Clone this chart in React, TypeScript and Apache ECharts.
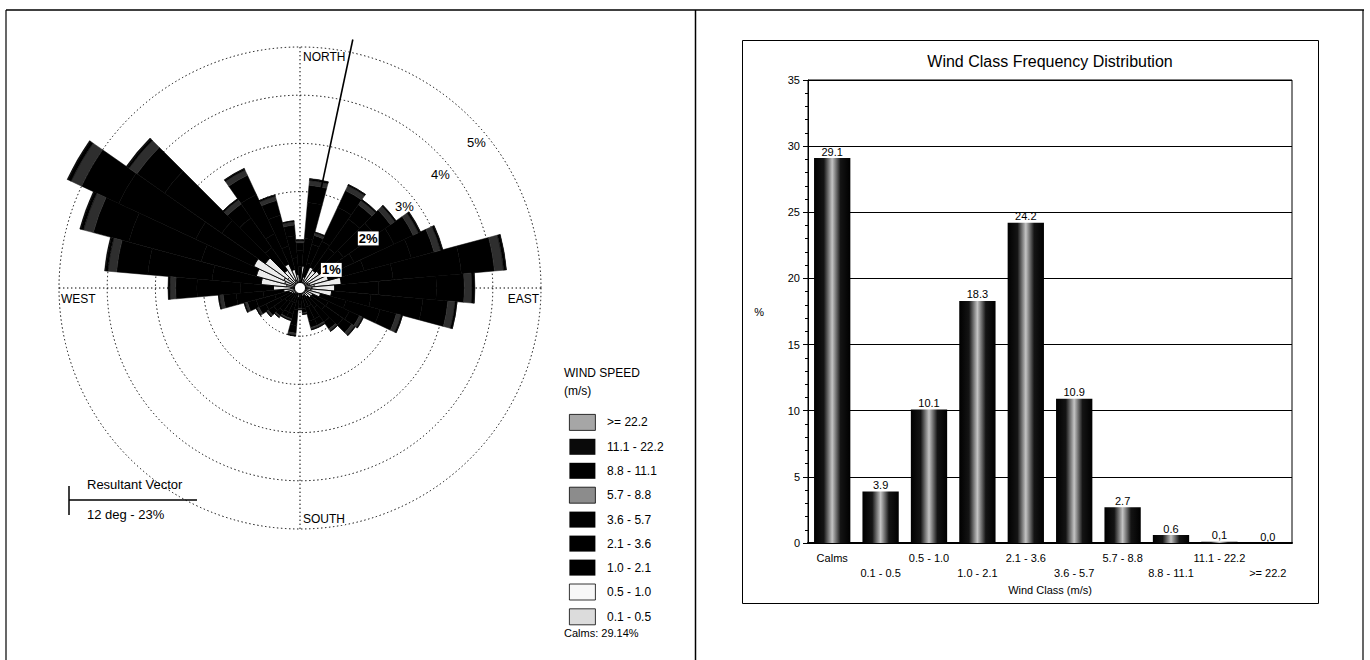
import React, { useEffect, useRef } from 'react';
import * as echarts from 'echarts';

// ---------- Wind rose data (percent of all hours, per 10-degree sector) ----------
const directions = ['0','10','20','30','40','50','60','70','80','90','100','110','120','130','140','150','160','170','180','190','200','210','220','230','240','250','260','270','280','290','300','310','320','330','340','350'];
const speedClasses = ['0.1 - 0.5','0.5 - 1.0','1.0 - 2.1','2.1 - 3.6','3.6 - 5.7','5.7 - 8.8','8.8 - 11.1','11.1 - 22.2','>= 22.2'];
const ws01_05 = [0.07,0.16,0.08,0.17,0.16,0.17,0.19,0.21,0.30,0.25,0.23,0.15,0.10,0.10,0.08,0.06,0.06,0.04,0.03,0.07,0.05,0.05,0.05,0.06,0.07,0.08,0.12,0.19,0.28,0.33,0.37,0.31,0.16,0.19,0.14,0.10];
const ws05_10 = [0.13,0.30,0.16,0.31,0.29,0.32,0.36,0.40,0.56,0.47,0.43,0.29,0.19,0.18,0.14,0.12,0.12,0.07,0.06,0.13,0.09,0.09,0.10,0.11,0.13,0.16,0.22,0.36,0.53,0.61,0.69,0.57,0.29,0.36,0.26,0.18];
const ws10_21 = [0.25,0.57,0.30,0.59,0.56,0.61,0.69,0.77,1.08,0.91,0.82,0.55,0.36,0.35,0.28,0.23,0.23,0.14,0.11,0.25,0.18,0.18,0.19,0.21,0.25,0.30,0.43,0.69,1.02,1.18,1.33,1.10,0.57,0.69,0.50,0.35];
const ws21_36 = [0.33,0.75,0.40,0.78,0.74,0.80,0.91,1.01,1.42,1.20,1.08,0.73,0.48,0.46,0.36,0.30,0.30,0.18,0.15,0.33,0.23,0.23,0.25,0.28,0.33,0.40,0.56,0.90,1.34,1.56,1.76,1.45,0.75,0.90,0.66,0.46];
const ws36_57 = [0.16,0.36,0.19,0.38,0.36,0.39,0.44,0.49,0.69,0.58,0.52,0.35,0.23,0.22,0.18,0.14,0.14,0.09,0.07,0.16,0.11,0.11,0.12,0.14,0.16,0.19,0.27,0.44,0.65,0.76,0.85,0.70,0.36,0.44,0.32,0.22];
const ws57_88 = [0.05,0.10,0.05,0.11,0.10,0.11,0.12,0.14,0.19,0.16,0.15,0.10,0.07,0.07,0.05,0.04,0.04,0.03,0.03,0.05,0.03,0.03,0.03,0.04,0.05,0.05,0.08,0.12,0.18,0.21,0.24,0.20,0.10,0.12,0.09,0.07];
const ws88_111 = [0.01,0.03,0.02,0.03,0.03,0.03,0.04,0.04,0.05,0.05,0.04,0.03,0.02,0.02,0.01,0.01,0.01,0,0,0.01,0.01,0.01,0.01,0.01,0.01,0.02,0.02,0.03,0.05,0.06,0.07,0.05,0.03,0.03,0.03,0.02];
const ws111_222 = [0,0.01,0,0,0,0,0.01,0.01,0.01,0.01,0,0,0,0,0,0,0,0,0,0,0,0,0,0,0,0,0,0.01,0.02,0.02,0.02,0.02,0,0.01,0,0];
const ws222 = [0,0,0,0,0,0,0,0,0,0,0,0,0,0,0,0,0,0,0,0,0,0,0,0,0,0,0,0,0,0,0,0,0,0,0,0];
const roseSeriesData = [ws01_05, ws05_10, ws10_21, ws21_36, ws36_57, ws57_88, ws88_111, ws111_222, ws222];
const calmsPct = 29.14;
const ringPcts = [1, 2, 3, 4, 5];
const compassLabels = ['NORTH', 'EAST', 'SOUTH', 'WEST'];
const resultantDeg = 12;
const resultantLen = 5.27;
const resultantText = '12 deg - 23%';

// ---------- Frequency distribution data ----------
const windClasses = ['Calms','0.1 - 0.5','0.5 - 1.0','1.0 - 2.1','2.1 - 3.6','3.6 - 5.7','5.7 - 8.8','8.8 - 11.1','11.1 - 22.2','>= 22.2'];
const classFreq = [29.1, 3.9, 10.1, 18.3, 24.2, 10.9, 2.7, 0.6, 0.1, 0.0];
const classFreqLabels = ['29.1','3.9','10.1','18.3','24.2','10.9','2.7','0.6','0,1','0,0'];
const yMax = 35;
const yStep = 5;

// ---------- styling ----------
const FONT = 'Liberation Sans, Arial, sans-serif';
// colours used inside the rose petals
const petalColors = ['#d4d4d4', '#ececec', '#000', '#000', '#000', '#2e2e2e', '#000', '#000', '#8a8a8a'];
const petalBorderW = [0.9, 0.9, 0.5, 0.5, 0.5, 0.5, 0.5, 0.5, 0];
// colours of the legend swatches (speckled patterns approximated by greys)
const swatchColors = ['#dcdcdc', '#f7f7f7', '#000', '#000', '#000', '#8c8c8c', '#000', '#0a0a0a', '#a6a6a6'];
const swatchBorder = [true, true, false, false, false, true, false, false, true];
const CX = 300, CY = 288, PX = 48.2; // rose centre and pixels per percent
const DOT: number[] = [1.4, 2.6];

export default function App() {
  const ref = useRef<HTMLDivElement>(null);
  useEffect(() => {
    if (!ref.current) return;
    const chart = echarts.init(ref.current, null, { renderer: 'svg' });
    const R = ringPcts[ringPcts.length - 1] * PX;

    const roseSeries: any[] = speedClasses.map((name, i) => ({
      name,
      type: 'bar',
      coordinateSystem: 'polar',
      polarIndex: 1,
      stack: 'rose',
      barCategoryGap: '0%',
      data: roseSeriesData[i],
      itemStyle: {
        color: petalColors[i],
        borderColor: i < 2 ? '#000' : petalColors[i],
        borderWidth: petalBorderW[i],
      },
      z: 3,
    }));

    const legendData = speedClasses
      .map((name, i) => ({
        name,
        itemStyle: {
          color: swatchColors[i],
          borderColor: '#000',
          borderWidth: swatchBorder[i] ? 0.8 : 0,
        },
      }))
      .reverse();

    const pctLabels = ringPcts.map((k) => {
      const a = ((48 + 12 / k) * Math.PI) / 180;
      const r = (k - 0.25) * PX;
      return {
        type: 'text',
        x: CX + r * Math.sin(a),
        y: CY - r * Math.cos(a),
        z: 20,
        style: {
          text: k + '%',
          font: (k <= 2 ? 'bold ' : '') + '13px ' + FONT,
          fill: '#000',
          align: 'center', textAlign: 'center',
          verticalAlign: 'middle', textVerticalAlign: 'middle',
          backgroundColor: k <= 2 ? '#fff' : undefined,
          padding: k <= 2 ? [1, 1, 0, 1] : 0,
        },
      };
    });

    const compassPos = [
      { x: CX + 3, y: CY - R + 10, align: 'left' },
      { x: CX + R - 2, y: CY + 11, align: 'right' },
      { x: CX + 3, y: CY + R - 10, align: 'left' },
      { x: CX - R + 2, y: CY + 11, align: 'left' },
    ];
    const compassTexts = compassLabels.map((t, i) => ({
      type: 'text',
      x: compassPos[i].x,
      y: compassPos[i].y,
      z: 20,
      style: {
        text: t, font: '12px ' + FONT, fill: '#000',
        align: compassPos[i].align, textAlign: compassPos[i].align,
        verticalAlign: 'middle', textVerticalAlign: 'middle',
        backgroundColor: '#fff',
      },
    }));

    const txt = (text: string, x: number, y: number, size = 12, align = 'left', extra: any = {}) => ({
      type: 'text', x, y, z: 20,
      style: {
        text, font: size + 'px ' + FONT, fill: '#000',
        align, textAlign: align, verticalAlign: 'middle', textVerticalAlign: 'middle', ...extra,
      },
    });
    const ln = (x1: number, y1: number, x2: number, y2: number, w = 1) => ({
      type: 'line', z: 20, shape: { x1, y1, x2, y2 }, style: { stroke: '#000', lineWidth: w },
    });

    const barGradient = new echarts.graphic.LinearGradient(0, 0, 1, 0, [
      { offset: 0, color: '#000' },
      { offset: 0.27, color: '#141414' },
      { offset: 0.5, color: '#c4c4c4' },
      { offset: 0.73, color: '#141414' },
      { offset: 1, color: '#000' },
    ]);

    const option: any = {
      animation: false,
      backgroundColor: '#fff',
      textStyle: { fontFamily: FONT },
      polar: [
        { center: [CX, CY], radius: R },
        { center: [CX, CY], radius: 6 * PX },
        { center: [CX, CY], radius: 6 * PX },
      ],
      angleAxis: [
        {
          polarIndex: 0, type: 'value', min: 0, max: 360, interval: 90, startAngle: 90, clockwise: true,
          axisLine: { show: false }, axisTick: { show: false }, axisLabel: { show: false },
          splitLine: { show: true, lineStyle: { color: '#000', width: 1, type: DOT } },
        },
        {
          polarIndex: 1, type: 'category', data: directions, startAngle: 95, clockwise: true,
          axisLine: { show: false }, axisTick: { show: false }, axisLabel: { show: false }, splitLine: { show: false },
        },
        {
          polarIndex: 2, type: 'value', min: 0, max: 360, startAngle: 90, clockwise: true,
          axisLine: { show: false }, axisTick: { show: false }, axisLabel: { show: false }, splitLine: { show: false },
        },
      ],
      radiusAxis: [
        {
          polarIndex: 0, type: 'value', min: 0, max: ringPcts[ringPcts.length - 1], interval: 1,
          axisLine: { show: false }, axisTick: { show: false }, axisLabel: { show: false },
          splitLine: { show: true, lineStyle: { color: '#000', width: 1, type: DOT } },
        },
        {
          polarIndex: 1, type: 'value', min: 0, max: 6,
          axisLine: { show: false }, axisTick: { show: false }, axisLabel: { show: false }, splitLine: { show: false },
        },
        {
          polarIndex: 2, type: 'value', min: 0, max: 6,
          axisLine: { show: false }, axisTick: { show: false }, axisLabel: { show: false }, splitLine: { show: false },
        },
      ],
      legend: {
        orient: 'vertical',
        left: 564,
        top: 409,
        itemWidth: 26,
        itemHeight: 16,
        itemGap: 8,
        icon: 'rect',
        selectedMode: false,
        data: legendData,
        formatter: (n: string) => '  ' + n,
        textStyle: { fontSize: 12, fontFamily: FONT, color: '#000' },
      },
      grid: {
        left: 808, right: 1370 - 1292, top: 80, bottom: 660 - 543,
        show: true, borderColor: '#000', borderWidth: 1, backgroundColor: 'transparent',
      },
      xAxis: {
        type: 'category',
        data: windClasses,
        name: 'Wind Class (m/s)',
        nameLocation: 'middle',
        nameGap: 40,
        nameTextStyle: { fontSize: 11, color: '#000', fontFamily: FONT },
        axisLine: { lineStyle: { color: '#000', width: 2 } },
        axisTick: { alignWithLabel: true, length: 4, lineStyle: { color: '#000' } },
        axisLabel: {
          interval: 0, margin: 7, fontSize: 11, lineHeight: 15, color: '#000', fontFamily: FONT,
          formatter: (v: string, i: number) => (i % 2 === 0 ? v : '\n' + v),
        },
      },
      yAxis: {
        type: 'value', min: 0, max: yMax, interval: yStep,
        name: '%', nameLocation: 'middle', nameGap: 44, nameRotate: 0,
        nameTextStyle: { fontSize: 11, color: '#000', fontFamily: FONT },
        axisLine: { show: true, lineStyle: { color: '#000', width: 1 } },
        axisTick: { show: true, length: 5, lineStyle: { color: '#000' } },
        minorTick: { show: true, splitNumber: 5, length: 3, lineStyle: { color: '#000' } },
        axisLabel: { fontSize: 11, color: '#000', margin: 8, fontFamily: FONT },
        splitLine: { show: true, lineStyle: { color: '#000', width: 1 } },
      },
      series: [
        ...roseSeries,
        {
          type: 'line',
          coordinateSystem: 'polar',
          polarIndex: 2,
          data: [[0, resultantDeg], [resultantLen, resultantDeg]],
          symbol: 'none',
          lineStyle: { color: '#000', width: 1.6 },
          z: 6,
          silent: true,
        },
        {
          type: 'bar',
          data: classFreq,
          barCategoryGap: '25%',
          itemStyle: { color: barGradient },
          label: {
            show: true, position: 'top', distance: 1, fontSize: 11, color: '#000', fontFamily: FONT,
            formatter: (p: any) => classFreqLabels[p.dataIndex],
          },
        },
      ],
      graphic: [
        // page frame
        ln(6, 10, 1364, 10, 1.5),
        ln(6, 10, 6, 660, 1.2),
        ln(695.5, 10, 695.5, 660, 1.5),
        ln(1363, 10, 1363, 660, 1.2),
        { type: 'rect', z: 20, shape: { x: 742.5, y: 40.5, width: 576, height: 563 }, style: { fill: 'none', stroke: '#000', lineWidth: 1 } },
        // calm circle
        { type: 'circle', z: 10, shape: { cx: CX, cy: CY, r: 5.5 }, style: { fill: '#fff', stroke: '#000', lineWidth: 1 } },
        ...pctLabels,
        ...compassTexts,
        // resultant vector key
        ln(69, 486, 69, 515, 1.5),
        ln(69, 500, 197, 500, 1.5),
        txt('Resultant Vector', 87, 484, 13),
        txt(resultantText, 87, 514, 13),
        // rose legend titles
        txt('WIND SPEED', 564, 373, 12),
        txt('(m/s)', 564, 391, 12),
        txt('Calms: ' + calmsPct.toFixed(2) + '%', 564, 633, 11),
        // bar chart title
        txt('Wind Class Frequency Distribution', 1050, 61, 16, 'center'),
      ],
    };
    chart.setOption(option);
    return () => chart.dispose();
  }, []);
  return <div ref={ref} style={{ position: 'absolute', left: 0, top: 0, width: 1370, height: 660 }} />;
}
